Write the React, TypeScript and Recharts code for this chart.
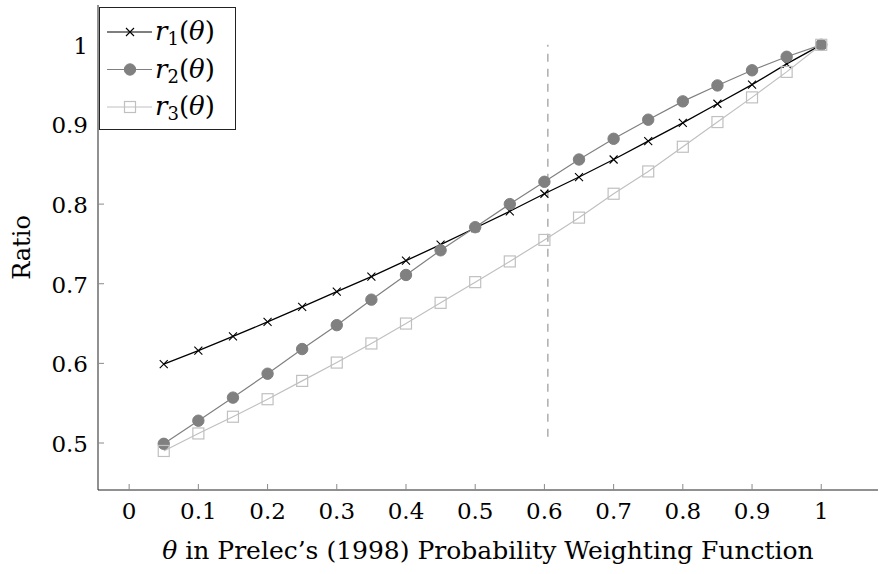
import React from "react";
import {
  LineChart, Line, XAxis, YAxis, ReferenceLine, Label,
} from "recharts";

const thetas = [0.05, 0.1, 0.15, 0.2, 0.25, 0.3, 0.35, 0.4, 0.45, 0.5, 0.55, 0.6, 0.65, 0.7, 0.75, 0.8, 0.85, 0.9, 0.95, 1];
const r1Values = [0.599, 0.616, 0.634, 0.652, 0.671, 0.690, 0.709, 0.729, 0.749, 0.770, 0.791, 0.813, 0.834, 0.856, 0.879, 0.902, 0.926, 0.950, 0.976, 1.0];
const r2Values = [0.499, 0.528, 0.557, 0.587, 0.618, 0.648, 0.680, 0.711, 0.742, 0.771, 0.800, 0.828, 0.856, 0.882, 0.906, 0.929, 0.949, 0.968, 0.985, 1.0];
const r3Values = [0.490, 0.512, 0.533, 0.555, 0.578, 0.601, 0.625, 0.650, 0.676, 0.702, 0.728, 0.755, 0.783, 0.813, 0.841, 0.872, 0.903, 0.934, 0.966, 1.0];

const xTicks = [0, 0.1, 0.2, 0.3, 0.4, 0.5, 0.6, 0.7, 0.8, 0.9, 1];
const xTickLabels = ["0", "0.1", "0.2", "0.3", "0.4", "0.5", "0.6", "0.7", "0.8", "0.9", "1"];
const yTicks = [0.5, 0.6, 0.7, 0.8, 0.9, 1];
const yTickLabels = ["0.5", "0.6", "0.7", "0.8", "0.9", "1"];

// vertical dashed marker
const markerTheta = 0.605;
const markerRange = [0.508, 1.0];

const data = thetas.map((t, i) => ({ theta: t, r1: r1Values[i], r2: r2Values[i], r3: r3Values[i] }));

const FONT = "DejaVu Serif, serif";
const TICK_COLOR = "#8a8a8a";
const AXIS_COLOR = "#222";

const xDomain = [-0.045, 1.082];
const yDomain = [0.441, 1.05];

const fmtX = (v: number) => xTickLabels[xTicks.indexOf(v)] ?? String(v);
const fmtY = (v: number) => yTickLabels[yTicks.indexOf(v)] ?? String(v);

const BottomTick = ({ x, y, payload }: any) => (
  <g>
    <line x1={x} x2={x} y1={y} y2={y - 6} stroke={TICK_COLOR} />
    <text x={x} y={y + 29} textAnchor="middle" fontFamily={FONT} fontSize={23} fill="#000">
      {fmtX(payload.value)}
    </text>
  </g>
);
const TopTick = ({ x, y }: any) => <line x1={x} x2={x} y1={y} y2={y + 6} stroke={TICK_COLOR} />;
const LeftTick = ({ x, y, payload }: any) => (
  <g>
    <line x1={x} x2={x + 6} y1={y} y2={y} stroke={TICK_COLOR} />
    <text x={x - 10} y={y + 9} textAnchor="end" fontFamily={FONT} fontSize={23} fill="#000">
      {fmtY(payload.value)}
    </text>
  </g>
);
const RightTick = ({ x, y }: any) => <line x1={x} x2={x - 6} y1={y} y2={y} stroke={TICK_COLOR} />;

const CrossDot = ({ cx, cy }: any) => (
  <path d={`M${cx - 4},${cy - 4}L${cx + 4},${cy + 4}M${cx - 4},${cy + 4}L${cx + 4},${cy - 4}`} stroke="#000" strokeWidth={1.1} fill="none" />
);
const CircleDot = ({ cx, cy }: any) => <circle cx={cx} cy={cy} r={5.7} fill="#808080" stroke="#808080" />;
const SquareDot = ({ cx, cy }: any) => (
  <rect x={cx - 5.5} y={cy - 5.5} width={11} height={11} fill="none" stroke="#c0c0c0" strokeWidth={1.2} />
);

const legendItems = [
  { sub: "1", color: "#000", mark: "x" },
  { sub: "2", color: "#808080", mark: "o" },
  { sub: "3", color: "#c0c0c0", mark: "s" },
];

const LegendBox = () => (
  <svg width={137} height={123} style={{ display: "block" }}>
    <rect x={0.5} y={0.5} width={136} height={122} fill="#fff" stroke={AXIS_COLOR} />
    {legendItems.map((it, i) => {
      const cy = 25 + i * 37.5;
      return (
        <g key={it.sub}>
          <line x1={8} x2={53} y1={cy} y2={cy} stroke={it.color} strokeWidth={it.mark === "x" ? 1.2 : 1} />
          {it.mark === "x" && <CrossDot cx={31} cy={cy} />}
          {it.mark === "o" && <CircleDot cx={31} cy={cy} />}
          {it.mark === "s" && <SquareDot cx={31} cy={cy} />}
          <text x={56} y={cy + 8} fontFamily={FONT} fontSize={26} fill="#000">
            <tspan fontStyle="italic">r</tspan>
            <tspan fontSize={18} dy={5}>{it.sub}</tspan>
            <tspan dy={-5}>(</tspan>
            <tspan fontStyle="italic">θ</tspan>
            <tspan>)</tspan>
          </text>
        </g>
      );
    })}
  </svg>
);

export default function App() {
  return (
    <div style={{ position: "absolute", left: 0, top: 0, width: 879, height: 574, background: "#fff" }}>
      <LineChart width={879} height={574} data={data} margin={{ top: 5, right: 1, bottom: 0, left: 0 }}>
        <XAxis
          dataKey="theta" type="number" domain={xDomain} ticks={xTicks} allowDataOverflow
          height={84} tickSize={0} tickMargin={0} tickLine={false} tick={<BottomTick />}
          axisLine={{ stroke: AXIS_COLOR }} interval={0}
        >
          <Label
            content={({ viewBox }: any) => (
              <text x={viewBox.x + viewBox.width / 2} y={viewBox.y + 69} textAnchor="middle" fontFamily={FONT} fontSize={25} fill="#000">
                <tspan fontStyle="italic">θ</tspan> in Prelec’s (1998) Probability Weighting Function
              </text>
            )}
          />
        </XAxis>
        <XAxis
          xAxisId="top" orientation="top" dataKey="theta" type="number" domain={xDomain} ticks={xTicks}
          allowDataOverflow height={0} tickSize={0} tickMargin={0} tickLine={false} tick={<TopTick />}
          axisLine={{ stroke: AXIS_COLOR }} interval={0}
        />
        <YAxis
          type="number" domain={yDomain} ticks={yTicks} allowDataOverflow width={98}
          tickSize={0} tickMargin={0} tickLine={false} tick={<LeftTick />} axisLine={{ stroke: AXIS_COLOR }} interval={0}
        >
          <Label
            content={({ viewBox }: any) => {
              const cx = 22;
              const cy = viewBox.y + viewBox.height / 2;
              return (
                <text x={cx} y={cy} transform={`rotate(-90 ${cx} ${cy})`} textAnchor="middle" dominantBaseline="central" fontFamily={FONT} fontSize={24} fill="#000">
                  Ratio
                </text>
              );
            }}
          />
        </YAxis>
        <YAxis
          yAxisId="right" orientation="right" type="number" domain={yDomain} ticks={yTicks} allowDataOverflow
          width={0} tickSize={0} tickMargin={0} tickLine={false} tick={<RightTick />} axisLine={{ stroke: AXIS_COLOR }} interval={0}
        />
        <ReferenceLine
          segment={[{ x: markerTheta, y: markerRange[0] }, { x: markerTheta, y: markerRange[1] }]}
          stroke="#999" strokeDasharray="8 7" strokeWidth={1.2}
        />
        <Line dataKey="r1" stroke="#000" strokeWidth={1.3} dot={<CrossDot />} activeDot={false} isAnimationActive={false} />
        <Line dataKey="r2" stroke="#808080" strokeWidth={1.2} dot={<CircleDot />} activeDot={false} isAnimationActive={false} />
        <Line dataKey="r3" stroke="#c0c0c0" strokeWidth={1.2} dot={<SquareDot />} activeDot={false} isAnimationActive={false} />
      </LineChart>
      <div style={{ position: "absolute", left: 99, top: 7 }}>
        <LegendBox />
      </div>
    </div>
  );
}
